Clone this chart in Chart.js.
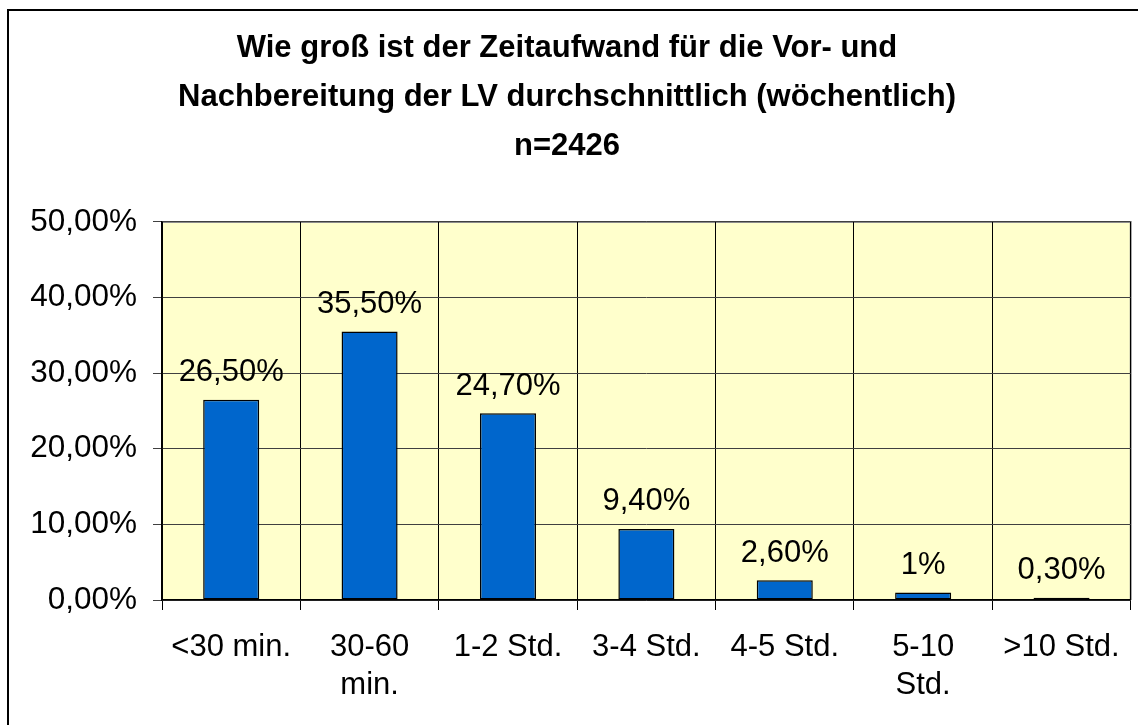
<!DOCTYPE html>
<html>
<head>
<meta charset="utf-8">
<script src="https://cdn.jsdelivr.net/npm/chart.js@4/dist/chart.umd.min.js"></script>
<style>
  html, body { margin: 0; padding: 0; background: #ffffff; }
  #wrap { position: relative; width: 1138px; height: 725px; }
</style>
</head>
<body>
<div id="wrap"><canvas id="c" width="1138" height="725"></canvas></div>
<script>
const categories = [["<30 min."], ["30-60", "min."], ["1-2 Std."], ["3-4 Std."], ["4-5 Std."], ["5-10", "Std."], [">10 Std."]];
const values = [26.5, 35.5, 24.7, 9.4, 2.6, 1, 0.3];
const valueLabels = ["26,50%", "35,50%", "24,70%", "9,40%", "2,60%", "1%", "0,30%"];
const titleLines = ["Wie groß ist der Zeitaufwand für die Vor- und", "Nachbereitung der LV durchschnittlich (wöchentlich)", "n=2426"];
const yMin = 0, yMax = 50, yStep = 10;

const FONT = "'Liberation Sans', Arial, sans-serif";

const framePlugin = {
  id: 'frame',
  beforeDraw(chart) {
    const ctx = chart.ctx;
    const a = chart.chartArea;
    ctx.save();
    ctx.fillStyle = '#ffffff';
    ctx.fillRect(0, 0, chart.width, chart.height);
    // outer border
    ctx.strokeStyle = '#000000';
    ctx.lineWidth = 2;
    ctx.strokeRect(8, 10, chart.width + 20, chart.height + 20);
    // plot background
    ctx.fillStyle = '#FFFFCC';
    ctx.fillRect(a.left, a.top, a.right - a.left, a.bottom - a.top);
    ctx.strokeStyle = '#8c8c8c';
    ctx.lineWidth = 2;
    ctx.beginPath();
    ctx.moveTo(a.left, a.top);
    ctx.lineTo(a.right, a.top);
    ctx.lineTo(a.right, a.bottom);
    ctx.stroke();
    ctx.restore();
  }
};

const labelPlugin = {
  id: 'valueLabels',
  afterDatasetsDraw(chart) {
    const ctx = chart.ctx;
    const meta = chart.getDatasetMeta(0);
    ctx.save();
    ctx.font = '31px ' + FONT;
    ctx.fillStyle = '#000000';
    ctx.textAlign = 'center';
    ctx.textBaseline = 'middle';
    meta.data.forEach((bar, i) => {
      ctx.fillText(valueLabels[i], bar.x, bar.y - 27);
    });
    ctx.restore();
  }
};

new Chart(document.getElementById('c'), {
  type: 'bar',
  data: {
    labels: categories,
    datasets: [{
      data: values,
      backgroundColor: '#0066CC',
      borderColor: '#000000',
      borderWidth: 1.5,
      borderSkipped: false,
      barPercentage: 0.405,
      categoryPercentage: 1.0
    }]
  },
  options: {
    responsive: false,
    animation: false,
    devicePixelRatio: 1,
    layout: { padding: { left: 0, right: 4, top: 0, bottom: 0 } },
    plugins: {
      legend: { display: false },
      tooltip: { enabled: false },
      title: {
        display: true,
        text: titleLines,
        color: '#000000',
        font: { family: FONT, size: 31, weight: 'bold', lineHeight: 1.58 },
        padding: { top: 24, bottom: 51 }
      }
    },
    scales: {
      x: {
        afterFit(scale) { scale.height = 125; },
        grid: {
          offset: true,
          color: '#000000',
          lineWidth: 1,
          tickLength: 10,
          drawTicks: true
        },
        border: { display: true, color: '#000000', width: 1.5 },
        ticks: {
          color: '#000000',
          font: { family: FONT, size: 31, lineHeight: 1.23 },
          padding: 18,
          maxRotation: 0,
          autoSkip: false
        }
      },
      y: {
        min: yMin,
        max: yMax,
        afterFit(scale) { scale.width = 162; },
        grid: {
          color: '#404040',
          lineWidth: 1,
          tickLength: 9,
          drawTicks: true
        },
        border: { display: true, color: '#000000', width: 1.5 },
        ticks: {
          stepSize: yStep,
          color: '#000000',
          font: { family: FONT, size: 31.5 },
          padding: 16,
          callback: (v) => v.toFixed(2).replace('.', ',') + '%'
        }
      }
    }
  },
  plugins: [framePlugin, labelPlugin]
});
</script>
</body>
</html>
